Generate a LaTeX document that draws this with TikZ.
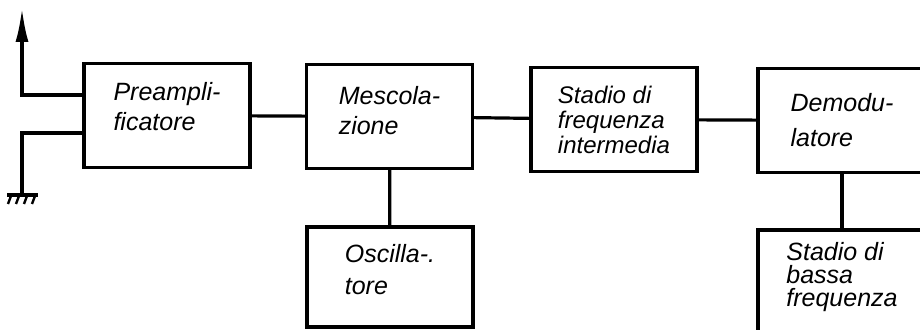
\documentclass[tikz,border=0pt]{standalone}
\usepackage{fontspec}
\setmainfont{Liberation Sans}
\usetikzlibrary{arrows.meta}
\tikzset{
  blockbox/.style={draw,line width=1.6pt,minimum width=83pt,minimum height=52pt,
    inner sep=0pt,align=left,font=\itshape\fontsize{12.5}{15}\selectfont},
  wire/.style={line width=1.6pt},
}

\begin{document}
\begin{tikzpicture}[x=0.5pt,y=-0.5pt]
  \useasboundingbox (0,0) rectangle (920,330);
  % stadi del ricevitore
  \node[blockbox,text depth=9pt] (pre) at (167,115.5) {Preampli-\\ficatore};
  \node[blockbox,text depth=6.5pt] (mes) at (389.5,116.5) {Mescola-\\zione};
  \node[blockbox,font=\itshape\fontsize{12}{12.5}\selectfont] (fi) at (614,119.5)
    {Stadio di\\frequenza\\intermedia};
  \node[blockbox,minimum width=84pt,font=\itshape\fontsize{12.5}{17.5}\selectfont]
    (dem) at (842,120.5) {Demodu-\\latore};
  \node[blockbox,text depth=8pt,minimum height=50pt,font=\itshape\fontsize{12.5}{16}\selectfont]
    (osc) at (390,277) {Oscilla-.\\tore};
  \node[blockbox,text depth=8pt,minimum width=84pt,font=\itshape\fontsize{12.5}{11.5}\selectfont]
    (bas) at (842,282) {Stadio di\\bassa\\frequenza};
  % collegamenti
  \draw[wire] (pre) -- (mes);
  \draw[wire] (mes) -- (fi);
  \draw[wire] (fi) -- (dem);
  \draw[wire] (mes) -- (osc);
  \draw[wire] (dem) -- (bas);
  % antenna e massa
  \coordinate (antbase) at (22,95);
  \coordinate (anttip) at (22,8);
  \draw[wire,-{Latex[length=17pt,width=6.5pt]}] (antbase -| pre.west) -- (antbase) -- (anttip);
  \coordinate (gndtap) at (22,133);
  \coordinate (gnd) at (22,195);
  \draw[wire] (gndtap -| pre.west) -- (gndtap) -- (gnd);
  \draw[wire] (7,195) -- (38,195);
  \foreach \gx in {11,19,27,35} {
    \draw[line width=1.2pt] (\gx,196) -- (\gx-3,204);}
\end{tikzpicture}
\end{document}
